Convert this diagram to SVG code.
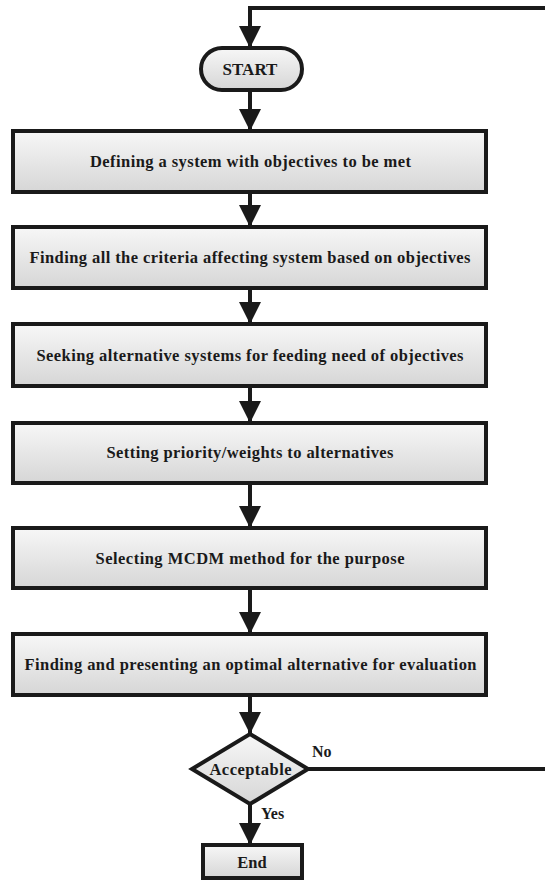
<svg xmlns="http://www.w3.org/2000/svg" width="545" height="883" viewBox="0 0 545 883">
<defs>
<linearGradient id="g" x1="0" y1="0" x2="0" y2="1">
<stop offset="0" stop-color="#f7f7f7"/>
<stop offset="1" stop-color="#d6d6d6"/>
</linearGradient>
<marker id="ah" markerUnits="userSpaceOnUse" markerWidth="22" markerHeight="24" refX="21" refY="11" orient="auto" viewBox="0 0 22 22">
<path d="M0,0 L22,11 L0,22 Z" fill="#1a1a1a"/>
</marker>
</defs>
<style>
.box{fill:url(#g);stroke:#1a1a1a;stroke-width:4}
text{font-family:'Liberation Serif','Times New Roman','DejaVu Serif',serif;font-weight:bold;fill:#1a1a1a}
.t{font-size:16.5px;text-anchor:middle}
.l{font-size:16px}
.c{fill:none;stroke:#1a1a1a;stroke-width:4}
</style>
<g id="connectors">
<polyline class="c" points="545,8 250,8 250,47" marker-end="url(#ah)"/>
<line class="c" x1="250" y1="90" x2="250" y2="130" marker-end="url(#ah)"/>
<line class="c" x1="250" y1="192" x2="250" y2="226" marker-end="url(#ah)"/>
<line class="c" x1="250" y1="288" x2="250" y2="323" marker-end="url(#ah)"/>
<line class="c" x1="250" y1="386" x2="250" y2="422" marker-end="url(#ah)"/>
<line class="c" x1="250" y1="483" x2="250" y2="527" marker-end="url(#ah)"/>
<line class="c" x1="250" y1="588" x2="250" y2="633" marker-end="url(#ah)"/>
<line class="c" x1="250" y1="695" x2="250" y2="733" marker-end="url(#ah)"/>
<line class="c" x1="308" y1="769" x2="545" y2="769"/>
<line class="c" x1="250" y1="804" x2="250" y2="844" marker-end="url(#ah)"/>
<text class="l" x="312" y="757">No</text>
<text class="l" x="261" y="819">Yes</text>
</g>
<g id="start">
<rect class="box" x="201" y="48" width="101" height="42" rx="21"/>
<text class="t" x="250" y="75" style="font-size:17px">START</text>
</g>
<g id="n1">
<rect class="box" x="13" y="131" width="473" height="61"/>
<text class="t" x="250.5" y="167" textLength="321" lengthAdjust="spacing">Defining a system with objectives to be met</text>
</g>
<g id="n2">
<rect class="box" x="13" y="227" width="473" height="61"/>
<text class="t" x="250" y="263" textLength="441" lengthAdjust="spacing">Finding all the criteria affecting system based on objectives</text>
</g>
<g id="n3">
<rect class="box" x="13" y="324" width="473" height="62"/>
<text class="t" x="250" y="361" textLength="427" lengthAdjust="spacing">Seeking alternative systems for feeding need of objectives</text>
</g>
<g id="n4">
<rect class="box" x="13" y="423" width="473" height="60"/>
<text class="t" x="250" y="458" textLength="287" lengthAdjust="spacing">Setting priority/weights to alternatives</text>
</g>
<g id="n5">
<rect class="box" x="13" y="528" width="473" height="60"/>
<text class="t" x="250" y="564" textLength="309" lengthAdjust="spacing">Selecting MCDM method for the purpose</text>
</g>
<g id="n6">
<rect class="box" x="13" y="634" width="473" height="61"/>
<text class="t" x="250.5" y="670" textLength="452" lengthAdjust="spacing">Finding and presenting an optimal alternative for evaluation</text>
</g>
<g id="decision">
<polygon class="box" points="250,734 308,769 250,804 192,769"/>
<text class="t" x="250.5" y="775" style="font-size:16.5px" textLength="82" lengthAdjust="spacing">Acceptable</text>
</g>
<g id="end">
<rect class="box" x="203" y="845" width="99" height="33"/>
<text class="t" x="252" y="868">End</text>
</g>
</svg>
